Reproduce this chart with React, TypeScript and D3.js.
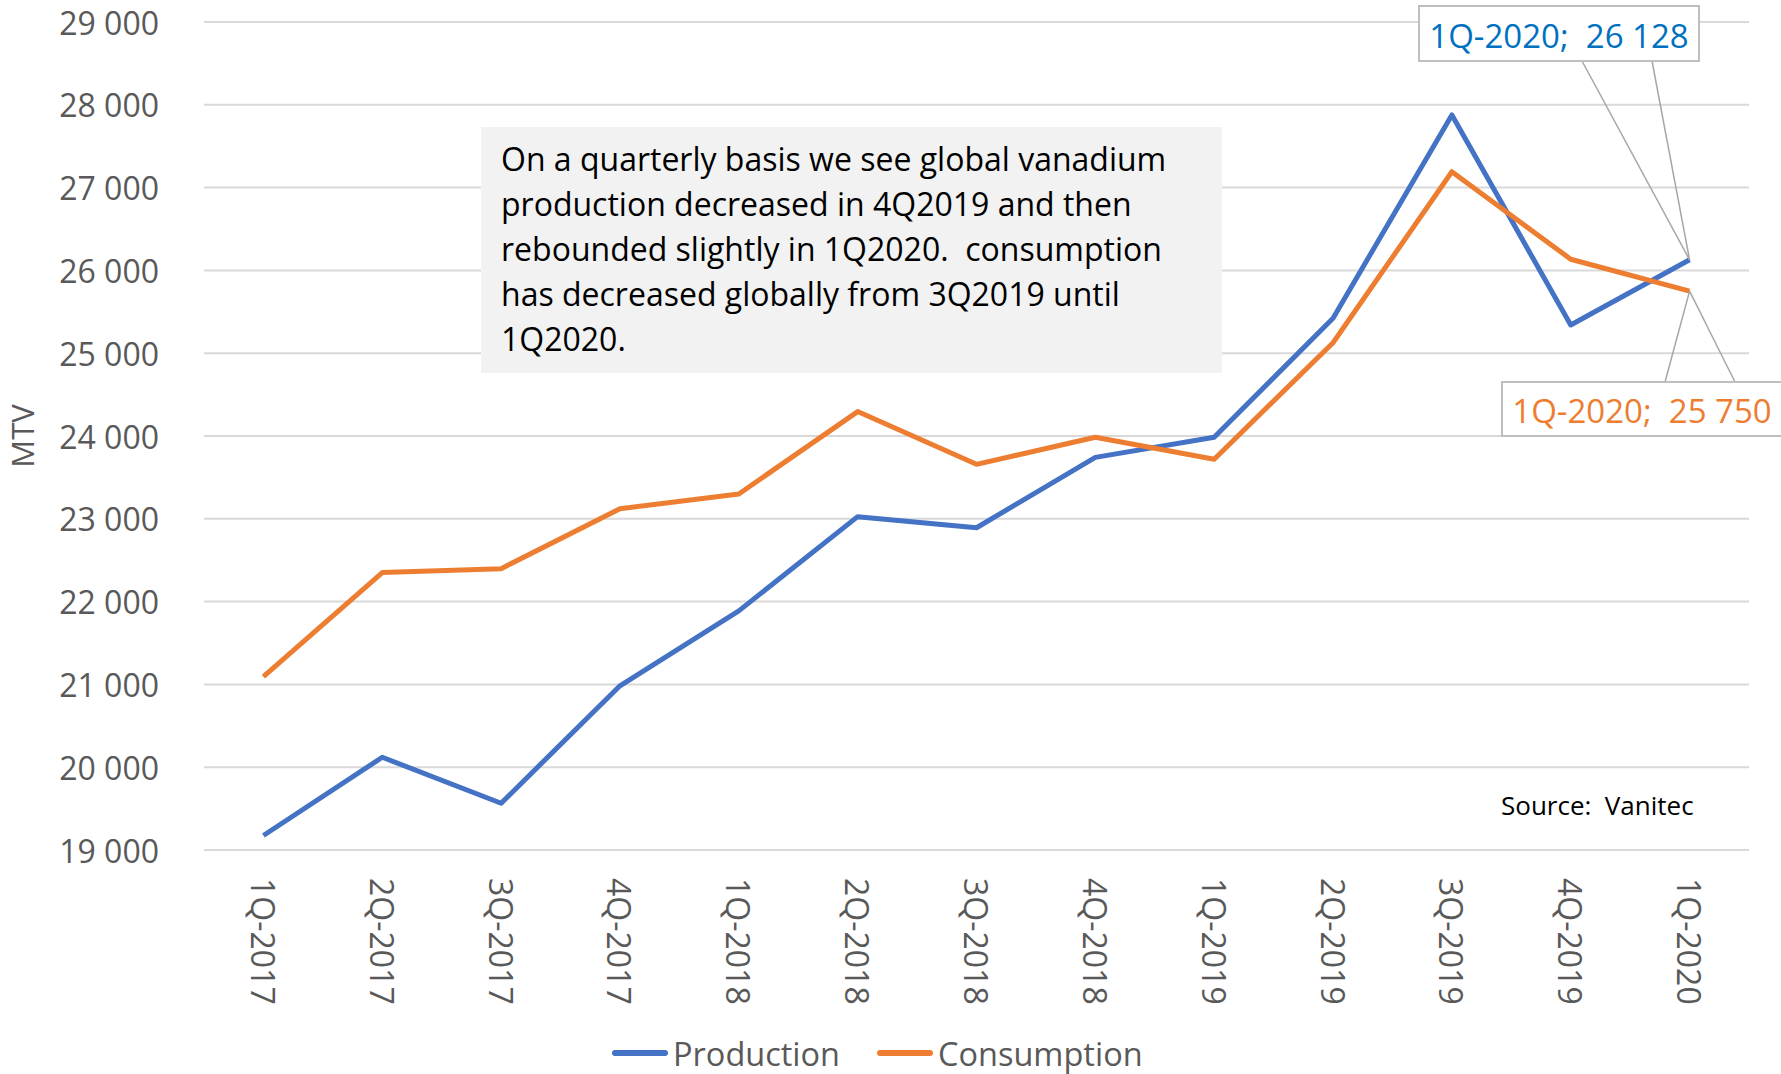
import React from "react";
import * as d3 from "d3";

// Quarterly global vanadium supply/demand (MTV)
const quarters = [
  "1Q-2017", "2Q-2017", "3Q-2017", "4Q-2017",
  "1Q-2018", "2Q-2018", "3Q-2018", "4Q-2018",
  "1Q-2019", "2Q-2019", "3Q-2019", "4Q-2019",
  "1Q-2020",
];
const production = [
  19175, 20120, 19565, 20983, 21888, 23026, 22892, 23742,
  23985, 25422, 27877, 25341, 26128,
];
const consumption = [
  21094, 22350, 22398, 23122, 23300, 24295, 23658, 23985,
  23720, 25126, 27192, 26135, 25750,
];
const yTicks = [19000, 20000, 21000, 22000, 23000, 24000, 25000, 26000, 27000, 28000, 29000];

const noteLines = [
  "On a quarterly basis we see global vanadium",
  "production decreased in 4Q2019 and then",
  "rebounded slightly in 1Q2020.  consumption",
  "has decreased globally from 3Q2019 until",
  "1Q2020.",
];

const W = 1781;
const H = 1074;
const FONT = "'Open Sans', 'Noto Sans', sans-serif";
const BLUE = "#4472c4";
const ORANGE = "#ed7d31";
const GRID = "#d9d9d9";
const AXIS_TEXT = "#595959";

const fmt = (v: number) => d3.format(",")(v).replace(/,/g, " ");

export default function App() {
  const x = d3.scalePoint<string>().domain(quarters).range([204, 1749]).padding(0.5);
  const y = d3.scaleLinear().domain([19000, 29000]).range([850, 22]);

  const line = d3
    .line<number>()
    .x((_, i) => x(quarters[i]) as number)
    .y((d) => y(d));

  const last = quarters.length - 1;
  const px = x(quarters[last]) as number;
  const pyProd = y(production[last]);
  const pyCons = y(consumption[last]);

  return (
    <svg
      width={W}
      height={H}
      viewBox={`0 0 ${W} ${H}`}
      style={{ position: "absolute", left: 0, top: 0, background: "#fff" }}
      fontFamily={FONT}
    >
      <rect x={0} y={0} width={W} height={H} fill="#fff" />

      {/* horizontal gridlines + y tick labels */}
      {yTicks.map((t) => (
        <g key={t}>
          <line x1={204} x2={1749} y1={y(t)} y2={y(t)} stroke={GRID} strokeWidth={2} />
          <text
            x={159}
            y={y(t)}
            textAnchor="end"
            dominantBaseline="central"
            fontSize={32}
            fill={AXIS_TEXT}
          >
            {fmt(t)}
          </text>
        </g>
      ))}

      {/* y axis title */}
      <text
        transform={`translate(22,436) rotate(-90)`}
        textAnchor="middle"
        dominantBaseline="central"
        fontSize={31}
        fill={AXIS_TEXT}
      >
        MTV
      </text>

      {/* x tick labels, rotated */}
      {quarters.map((q) => (
        <text
          key={q}
          transform={`translate(${x(q)},878) rotate(90)`}
          textAnchor="start"
          dominantBaseline="central"
          fontSize={32}
          fill={AXIS_TEXT}
        >
          {q}
        </text>
      ))}

      {/* annotation box */}
      <rect x={481} y={127} width={741} height={246} fill="#f2f2f2" />
      {noteLines.map((s, i) => (
        <text key={i} x={501} y={171 + i * 45} fontSize={32} fill="#000" style={{ whiteSpace: "pre" }}>
          {s}
        </text>
      ))}

      {/* series */}
      <path d={line(production) || ""} fill="none" stroke={BLUE} strokeWidth={5} strokeLinejoin="round" />
      <path d={line(consumption) || ""} fill="none" stroke={ORANGE} strokeWidth={5} strokeLinejoin="round" />

      {/* data label: production */}
      <g>
        <line x1={1582} y1={61} x2={px} y2={pyProd} stroke="#a6a6a6" strokeWidth={1.5} />
        <line x1={1652} y1={61} x2={px} y2={pyProd} stroke="#a6a6a6" strokeWidth={1.5} />
        <rect x={1419} y={6} width={280} height={55} fill="#fff" stroke="#bfbfbf" strokeWidth={2} />
        <text x={1559} y={35} textAnchor="middle" dominantBaseline="central" fontSize={33} fill="#0070c0">
          {`${quarters[last]};\u00a0\u00a0${fmt(production[last])}`}
        </text>
      </g>

      {/* data label: consumption */}
      <g>
        <line x1={1665} y1={382} x2={px} y2={pyCons} stroke="#a6a6a6" strokeWidth={1.5} />
        <line x1={1735} y1={382} x2={px} y2={pyCons} stroke="#a6a6a6" strokeWidth={1.5} />
        <rect x={1502} y={382} width={282} height={54} fill="#fff" stroke="#bfbfbf" strokeWidth={2} />
        <text x={1642} y={410} textAnchor="middle" dominantBaseline="central" fontSize={33} fill={ORANGE}>
          {`${quarters[last]};\u00a0\u00a0${fmt(consumption[last])}`}
        </text>
      </g>

      {/* source note */}
      <text x={1501} y={815} fontSize={26} fill="#000">
        Source:&#160;&#160;Vanitec
      </text>

      {/* legend */}
      <g>
        <line x1={615} x2={665} y1={1053} y2={1053} stroke={BLUE} strokeWidth={6} strokeLinecap="round" />
        <text x={673} y={1053} dominantBaseline="central" fontSize={32.5} fill={AXIS_TEXT}>
          Production
        </text>
        <line x1={880} x2={930} y1={1053} y2={1053} stroke={ORANGE} strokeWidth={6} strokeLinecap="round" />
        <text x={938} y={1053} dominantBaseline="central" fontSize={32.5} fill={AXIS_TEXT}>
          Consumption
        </text>
      </g>
    </svg>
  );
}
